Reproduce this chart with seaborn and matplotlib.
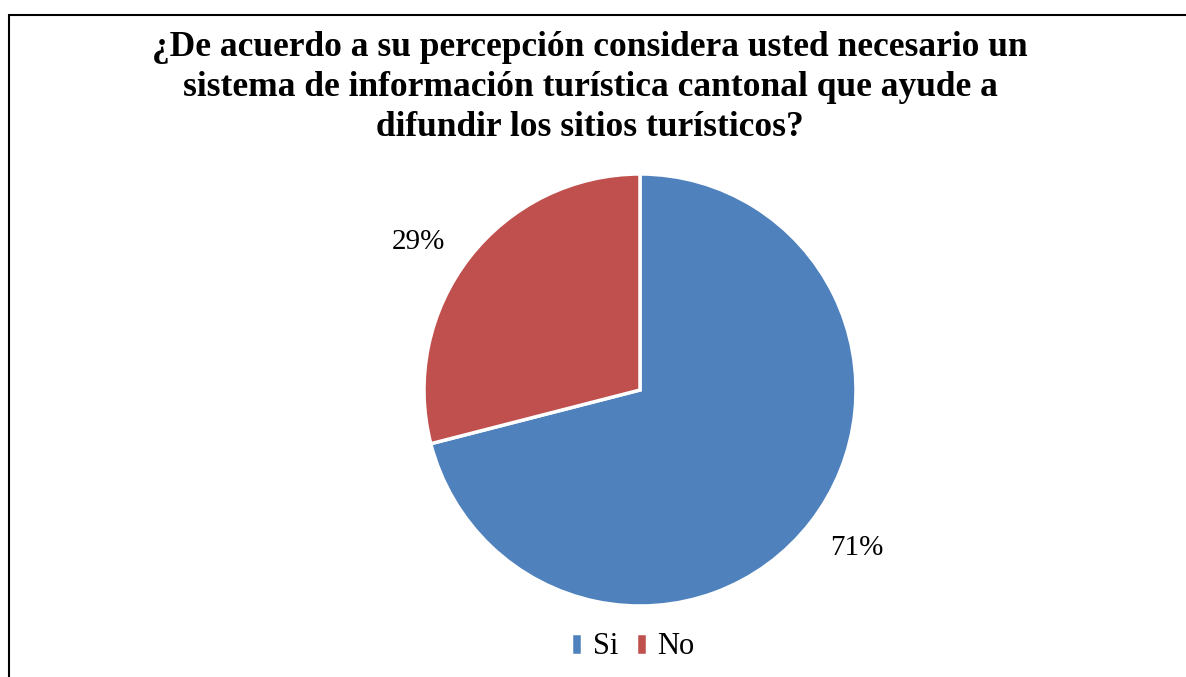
import matplotlib
matplotlib.use("Agg")
import matplotlib.pyplot as plt
import seaborn as sns
from matplotlib.patches import Rectangle

categories = ["Si", "No"]
values = [71, 29]
colors = ["#4F81BD", "#C0504D"]
label_pos = [(1.005, -0.731), (-1.028, 0.685)]
title = ("¿De acuerdo a su percepción considera usted necesario un\n"
         "sistema de información turística cantonal que ayude a\n"
         "difundir los sitios turísticos?")

sns.set_theme(style="white")
plt.rcParams["font.family"] = ["Liberation Serif", "DejaVu Serif"]
plt.rcParams["text.color"] = "black"

W, H = 1186, 677
fig = plt.figure(figsize=(W / 100, H / 100), dpi=100)

# pie: centre (640, 390) px, radius 216 px
cx, cy, r = 640, 390, 216
ax = fig.add_axes([(cx - r) / W, (H - cy - r) / H, 2 * r / W, 2 * r / H])
wedges, texts, autotexts = ax.pie(values, colors=colors, startangle=90, counterclock=False,
                                  autopct="%1.0f%%", pctdistance=1.24,
                                  wedgeprops=dict(edgecolor="white", linewidth=2.5),
                                  textprops=dict(fontsize=21, color="black"))
for t, p in zip(autotexts, label_pos):
    t.set_position(p)
ax.set_xlim(-1, 1)
ax.set_ylim(-1, 1)
ax.set_aspect("equal")

fig.text(590 / W, 1 - 31 / H, title, ha="center", va="top", fontsize=25.5,
         fontweight="bold", linespacing=1.27, color="black")

fig.legend(wedges, categories, loc="center", bbox_to_anchor=(633 / W, 1 - 647 / H), ncol=2,
           frameon=False, fontsize=22, handlelength=0.35, handleheight=0.7,
           handletextpad=0.35, columnspacing=0.6)

fig.patches.append(Rectangle((9 / W, -0.05), 1.2, 1 - 15 / H + 0.05, fill=False,
                             edgecolor="black", linewidth=1.5, transform=fig.transFigure))

fig.savefig("out.png", dpi=100)
